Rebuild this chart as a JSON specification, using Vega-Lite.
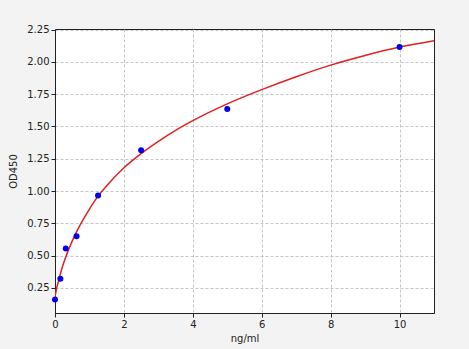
{
  "$schema": "https://vega.github.io/schema/vega-lite/v6.json",
  "width": 379,
  "height": 284,
  "autosize": {"type": "none"},
  "padding": {"left": 55, "top": 29, "right": 35, "bottom": 36},
  "background": "#f3f3f3",
  "config": {
    "view": {"fill": "white", "stroke": "#222222", "strokeWidth": 1},
    "axis": {
      "labelFont": "DejaVu Sans",
      "titleFont": "DejaVu Sans",
      "labelFontSize": 10,
      "titleFontSize": 10,
      "titleFontWeight": "normal",
      "labelColor": "#222222",
      "titleColor": "#222222",
      "domainColor": "#222222",
      "tickColor": "#222222",
      "tickSize": 4,
      "labelOverlap": false,
      "labelFlush": false,
      "gridColor": "#b8b8b8",
      "gridDash": [3, 2],
      "gridWidth": 0.8
    }
  },
  "datasets": {
    "points": [
      {"conc": 0, "od": 0.16},
      {"conc": 0.156, "od": 0.32},
      {"conc": 0.3125, "od": 0.555},
      {"conc": 0.625, "od": 0.65},
      {"conc": 1.25, "od": 0.965},
      {"conc": 2.5, "od": 1.315},
      {"conc": 5, "od": 1.635},
      {"conc": 10, "od": 2.115}
    ],
    "curve": [
      {"conc": 0, "od": 0.18},
      {"conc": 0.05, "od": 0.25},
      {"conc": 0.1, "od": 0.30},
      {"conc": 0.2, "od": 0.40},
      {"conc": 0.3, "od": 0.48},
      {"conc": 0.4, "od": 0.55},
      {"conc": 0.6, "od": 0.67},
      {"conc": 0.8, "od": 0.77},
      {"conc": 1, "od": 0.86},
      {"conc": 1.25, "od": 0.96},
      {"conc": 1.5, "od": 1.04},
      {"conc": 2, "od": 1.18},
      {"conc": 2.5, "od": 1.29},
      {"conc": 3, "od": 1.385},
      {"conc": 3.5, "od": 1.47},
      {"conc": 4, "od": 1.545},
      {"conc": 5, "od": 1.675},
      {"conc": 6, "od": 1.785},
      {"conc": 7, "od": 1.885},
      {"conc": 8, "od": 1.975},
      {"conc": 9, "od": 2.05},
      {"conc": 10, "od": 2.115},
      {"conc": 11, "od": 2.165}
    ]
  },
  "layer": [
    {
      "data": {"name": "curve"},
      "mark": {"type": "line", "color": "#e0201e", "strokeWidth": 1.5, "interpolate": "monotone", "clip": true},
      "encoding": {
        "x": {
          "field": "conc", "type": "quantitative",
          "scale": {"domain": [0, 11], "nice": false, "zero": false},
          "axis": {"title": "ng/ml", "values": [0, 2, 4, 6, 8, 10], "tickCount": 12, "grid": true, "titlePadding": 4}
        },
        "y": {
          "field": "od", "type": "quantitative",
          "scale": {"domain": [0.055, 2.255], "nice": false, "zero": false},
          "axis": {"title": "OD450", "values": [0.25, 0.5, 0.75, 1.0, 1.25, 1.5, 1.75, 2.0, 2.25], "tickCount": 12, "format": ".2f", "grid": true, "titlePadding": 8}
        }
      }
    },
    {
      "data": {"name": "points"},
      "mark": {"type": "circle", "color": "#0000ee", "opacity": 1, "size": 36, "clip": false},
      "encoding": {
        "x": {"field": "conc", "type": "quantitative"},
        "y": {"field": "od", "type": "quantitative"}
      }
    }
  ]
}
